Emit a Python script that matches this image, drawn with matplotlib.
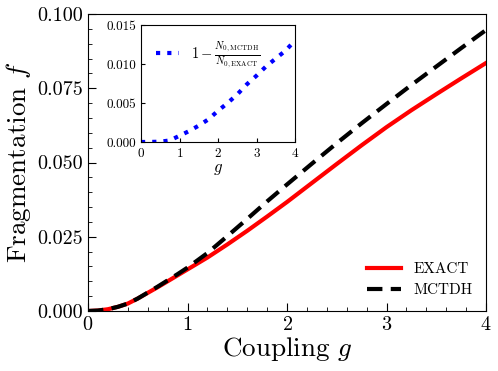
import matplotlib
matplotlib.use("Agg")
import matplotlib.pyplot as plt
from matplotlib.ticker import MultipleLocator

plt.rcParams['font.family'] = 'serif'
plt.rcParams['font.serif'] = ['cmr10', 'DejaVu Serif']
plt.rcParams['mathtext.fontset'] = 'cm'
plt.rcParams['axes.formatter.use_mathtext'] = True
plt.rcParams['axes.unicode_minus'] = False

# Main curves: fragmentation vs coupling
g = [0, 0.1, 0.2, 0.3, 0.4, 0.5, 0.6, 0.7, 0.8, 0.9, 1.0, 1.2, 1.4, 1.6, 1.8, 2.0,
     2.25, 2.5, 2.75, 3.0, 3.25, 3.5, 3.75, 4.0]
f_exact = [0, 0.00015, 0.0006, 0.0014, 0.0025, 0.0042, 0.0061, 0.0080, 0.0100, 0.0120,
           0.0140, 0.0180, 0.0224, 0.0270, 0.0318, 0.0367,
           0.0431, 0.0495, 0.0558, 0.0619, 0.0676, 0.0730, 0.0783, 0.0835]
f_mctdh = [0, 0.00015, 0.0006, 0.0014, 0.0025, 0.0042, 0.0062, 0.0082, 0.0103, 0.0124,
           0.0146, 0.0195, 0.0252, 0.0310, 0.0369, 0.0426,
           0.0496, 0.0565, 0.0632, 0.0697, 0.0761, 0.0823, 0.0885, 0.0946]

# Inset: 1 - N0_MCTDH / N0_EXACT
g_in = [0, 0.25, 0.5, 0.75, 1.0, 1.25, 1.5, 1.75, 2.0, 2.25, 2.5, 2.75, 3.0, 3.25, 3.5, 3.75, 4.0]
r_in = [0, 0.00001, 0.00004, 0.0002, 0.0008, 0.0014, 0.0021, 0.0029, 0.0040, 0.0050,
        0.0061, 0.0074, 0.0085, 0.0097, 0.0107, 0.0117, 0.0130]

fig = plt.figure(figsize=(4.98, 3.71), dpi=100)
ax = fig.add_axes([88 / 498, 60 / 371, 398 / 498, 297 / 371])

ax.plot(g, f_exact, color='red', lw=3, label='EXACT')
ax.plot(g, f_mctdh, color='black', lw=3, ls=(0, (3.7, 2.0)), label='MCTDH')

ax.set_xlim(0, 4)
ax.set_ylim(0, 0.1)
ax.xaxis.set_major_locator(MultipleLocator(1))
ax.xaxis.set_minor_locator(MultipleLocator(0.2))
ax.yaxis.set_minor_locator(MultipleLocator(0.005))
ax.set_yticks([0, 0.025, 0.05, 0.075, 0.1])
ax.set_yticklabels(['0.000', '0.025', '0.050', '0.075', '0.100'])
ax.tick_params(which='both', direction='in', labelsize=14.5)
ax.tick_params(which='major', length=6)
ax.tick_params(which='minor', length=3)
ax.set_xlabel('Coupling $g$', fontsize=19.5, labelpad=1)
ax.set_ylabel('Fragmentation $f$', fontsize=19.5, labelpad=3)
ax.legend(loc='lower right', frameon=False, fontsize=11, handlelength=2.2)

ins = fig.add_axes([141 / 498, 229 / 371, 154 / 498, 117 / 371])
ins.plot(g_in, r_in, color='blue', lw=3, ls=(0, (1, 1.7)),
         label=r'$1-\frac{N_{0,\mathrm{MCTDH}}}{N_{0,\mathrm{EXACT}}}$')
ins.set_xlim(0, 4)
ins.set_ylim(0, 0.015)
ins.set_xticks([0, 1, 2, 3, 4])
ins.set_yticks([0, 0.005, 0.01, 0.015])
ins.set_yticklabels(['0.000', '0.005', '0.010', '0.015'])
ins.tick_params(direction='in', labelsize=9.5, length=3)
ins.set_xlabel('$g$', fontsize=12, labelpad=1)
ins.legend(loc='upper left', frameon=False, fontsize=10.5, handlelength=1.6,
           borderaxespad=0.6)

fig.savefig('out.png', dpi=100)
